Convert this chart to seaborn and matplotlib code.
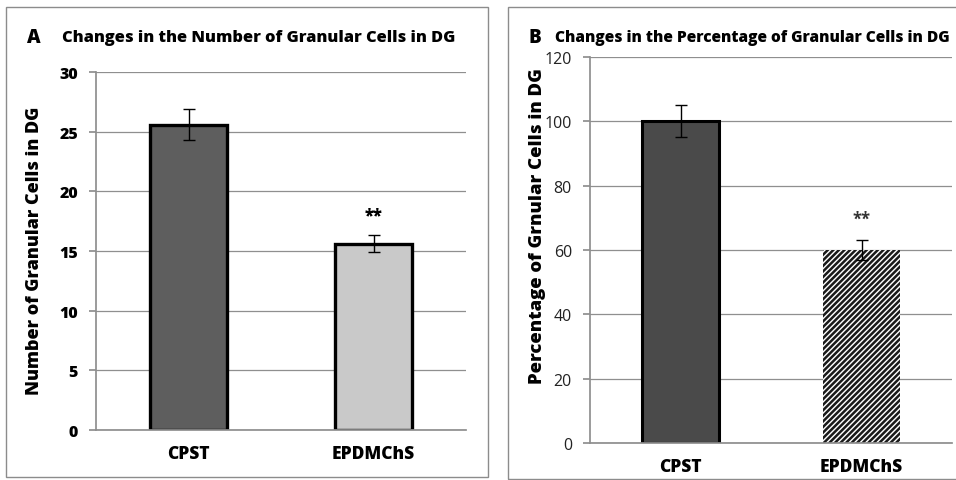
import matplotlib
matplotlib.use("Agg")
import matplotlib.pyplot as plt
import seaborn as sns
import pandas as pd
from matplotlib.patches import Rectangle

groups = ["CPST", "EPDMChS"]
count_means = [25.6, 15.6]
count_errs = [1.3, 0.7]
pct_means = [100.0, 60.0]
pct_errs = [5.0, 3.0]
count_ticks = [0, 5, 10, 15, 20, 25, 30]
pct_ticks = [0, 20, 40, 60, 80, 100, 120]
sig_marks = ["", "**"]

sns.set_theme(style="white")
plt.rcParams["font.family"] = ["Open Sans", "DejaVu Sans"]
plt.rcParams["hatch.linewidth"] = 1.8
plt.rcParams["text.color"] = "black"

fig = plt.figure(figsize=(9.56, 4.81), dpi=100)
fig.patch.set_facecolor("white")

# panel borders
fig.add_artist(Rectangle((6 / 956, 1 - 478 / 481), (488 - 6) / 956, (478 - 8) / 481,
                         transform=fig.transFigure, fill=False, edgecolor="#8c8c8c", lw=1.0))
fig.add_artist(Rectangle((508 / 956, 1 - 480 / 481), (990 - 508) / 956, (480 - 8) / 481,
                         transform=fig.transFigure, fill=False, edgecolor="#8c8c8c", lw=1.0))

axA = fig.add_axes([96 / 956, 1 - 431 / 481, 370 / 956, (431 - 73) / 481])
axB = fig.add_axes([590 / 956, 1 - 444 / 481, 362 / 956, (444 - 58) / 481])

dfA = pd.DataFrame({"group": groups, "value": count_means})
dfB = pd.DataFrame({"group": groups, "value": pct_means})

sns.barplot(data=dfA, x="group", y="value", hue="group", palette=["#5e5e5e", "#c9c9c9"],
            width=0.415, edgecolor="black", linewidth=2.4, legend=False, ax=axA, errorbar=None)
sns.barplot(data=dfB, x="group", y="value", hue="group", palette=["#4a4a4a", "white"],
            width=0.42, edgecolor="black", linewidth=2.2, legend=False, ax=axB, errorbar=None)

# hatch on the second bar of panel B
bars_B = [p for p in axB.patches]
bars_B[1].set_hatch("//////")
bars_B[1].set_linewidth(0.0)
bars_B[1].set_edgecolor("#1a1a1a")

for ax, means, errs in [(axA, count_means, count_errs), (axB, pct_means, pct_errs)]:
    ax.errorbar(range(len(groups)), means, yerr=errs, fmt="none", ecolor="black",
                elinewidth=1.0, capsize=4, capthick=1.0, zorder=5)

axA.set_ylim(0, 30)
axB.set_ylim(0, 120)
axA.set_yticks(count_ticks)
axB.set_yticks(pct_ticks)
for ax in (axA, axB):
    ax.set_xlim(-0.5, 1.5)
    ax.yaxis.grid(True, color="#8f8f8f", lw=0.9)
    ax.set_axisbelow(True)
    for s in ("top", "right"):
        ax.spines[s].set_visible(False)
    ax.spines["left"].set_color("#8f8f8f")
    ax.spines["bottom"].set_color("#8f8f8f")
    ax.tick_params(axis="y", left=True, length=5, color="#8f8f8f", pad=8)
    ax.tick_params(axis="x", bottom=False, pad=5)
    ax.set_xlabel("")
    ax.set_ylabel("")
    for lbl in ax.get_xticklabels():
        lbl.set_fontweight("heavy")
        lbl.set_fontsize(12.5)
        lbl.set_color("black")

for lbl in axA.get_yticklabels():
    lbl.set_fontweight("heavy")
    lbl.set_fontsize(11.5)
    lbl.set_color("black")
for lbl in axB.get_yticklabels():
    lbl.set_fontsize(11.5)
    lbl.set_color("#222222")

fig.text(35 / 956, 1 - 251 / 481, "Number of Granular Cells in DG", fontsize=13,
         fontweight="heavy", rotation=90, ha="center", va="center")
fig.text(538 / 956, 1 - 226 / 481, "Percentage of Grnular Cells in DG", fontsize=13.3,
         fontweight="heavy", rotation=90, ha="center", va="center")

for i, s in enumerate(sig_marks):
    if s:
        axA.text(i, count_means[i] + count_errs[i] + 1.0, s, ha="center", va="bottom",
                 fontsize=12, fontweight="heavy")
        axB.text(i, pct_means[i] + pct_errs[i] + 4.0, s, ha="center", va="bottom",
                 fontsize=12, fontweight="bold", color="#333333")

fig.text(27 / 956, 1 - 38 / 481, "A", fontsize=13.5, fontweight="heavy", va="center")
fig.text(62 / 956, 1 - 38 / 481, "Changes in the Number of Granular Cells in DG",
         fontsize=11.8, fontweight="heavy", va="center")
fig.text(528 / 956, 1 - 38 / 481, "B", fontsize=13.5, fontweight="heavy", va="center")
fig.text(555 / 956, 1 - 38 / 481, "Changes in the Percentage of Granular Cells in DG",
         fontsize=11.2, fontweight="heavy", va="center")

fig.savefig("out.png", dpi=100)
